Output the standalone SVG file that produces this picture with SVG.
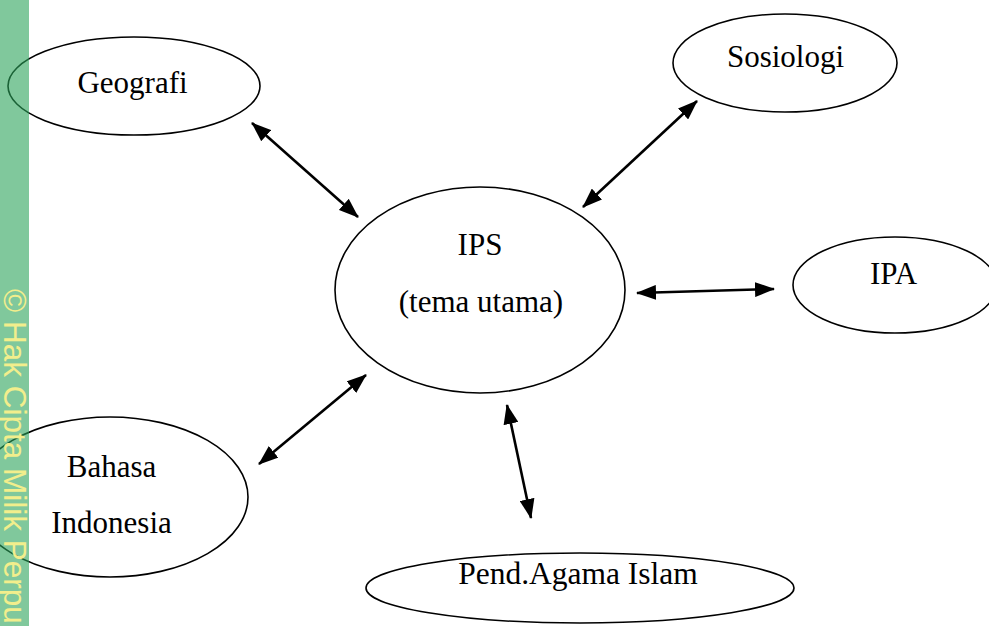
<svg xmlns="http://www.w3.org/2000/svg" width="989" height="626" viewBox="0 0 989 626">
  <defs>
    <marker id="ah" markerUnits="userSpaceOnUse" markerWidth="20" markerHeight="15" refX="19" refY="7.5" orient="auto-start-reverse" viewBox="0 0 20 15">
      <path d="M0,0 L20,7.5 L0,15 z" fill="#000"/>
    </marker>
    <style>
      .node ellipse { fill: none; stroke: #000; stroke-width: 1.6; }
      .node text { font-family: "Liberation Serif", "Times New Roman", serif; font-size: 31px; fill: #000; text-anchor: middle; }
      #connectors line { stroke: #000; stroke-width: 2.6; marker-start: url(#ah); marker-end: url(#ah); }
    </style>
  </defs>
  <rect width="989" height="626" fill="#fff"/>

  <g id="geografi" class="node">
    <ellipse cx="134" cy="86" rx="126" ry="49"/>
    <text x="132.5" y="93">Geografi</text>
  </g>
  <g id="sosiologi" class="node">
    <ellipse cx="785" cy="63" rx="112" ry="49"/>
    <text x="785.5" y="67">Sosiologi</text>
  </g>
  <g id="ips" class="node">
    <ellipse cx="480" cy="290" rx="145" ry="103"/>
    <text x="480" y="255">IPS</text>
    <text x="481" y="312">(tema utama)</text>
  </g>
  <g id="ipa" class="node">
    <ellipse cx="895" cy="285" rx="102" ry="48"/>
    <text x="893.5" y="284">IPA</text>
  </g>
  <g id="bahasa" class="node">
    <ellipse cx="110" cy="497" rx="138" ry="80"/>
    <text x="111.5" y="477">Bahasa</text>
    <text x="111.5" y="533">Indonesia</text>
  </g>
  <g id="pai" class="node">
    <ellipse cx="580" cy="588" rx="214" ry="35"/>
    <text x="578" y="584" style="font-size:31.5px">Pend.Agama Islam</text>
  </g>

  <g id="connectors">
    <line x1="252" y1="123" x2="358" y2="217"/>
    <line x1="697" y1="101" x2="583" y2="207"/>
    <line x1="637" y1="293" x2="774" y2="289"/>
    <line x1="366" y1="375" x2="259" y2="464"/>
    <line x1="507" y1="405" x2="531" y2="518"/>
  </g>

  <g id="watermark">
    <rect x="0" y="0" width="29" height="626" fill="#2ba35a" fill-opacity="0.6"/>
    <text transform="translate(4,289) rotate(90)" font-family="Liberation Sans, Arial, sans-serif" font-size="31.5" fill="#f2ee8c">© Hak Cipta Milik Perpu</text>
  </g>
</svg>
